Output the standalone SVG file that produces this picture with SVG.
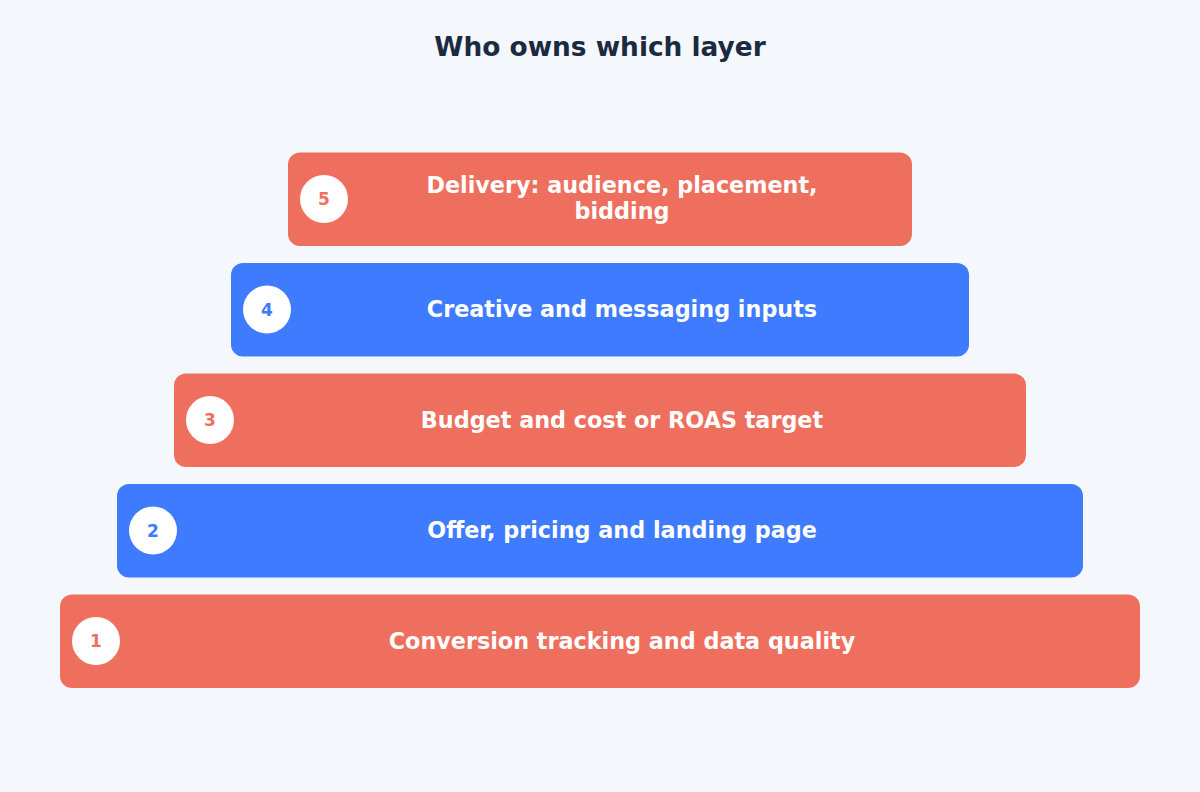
<svg xmlns="http://www.w3.org/2000/svg" width="1200" height="792" viewBox="0 0 1200 792">
<style>
.bg{fill:#F4F8FC}
.title{font-family:"DejaVu Sans",sans-serif;font-weight:bold;font-size:26.4px;fill:#1B2A3F;text-anchor:middle}
.red{fill:#EF6F5E}
.blue{fill:#3E7BFF}
.lbl{font-family:"DejaVu Sans",sans-serif;font-weight:bold;font-size:22.3px;fill:#FFFFFF;text-anchor:middle}
.badge{fill:#FFFFFF}
.num{font-family:"DejaVu Sans",sans-serif;font-weight:bold;font-size:17px;text-anchor:middle;dominant-baseline:central}
.nr{fill:#EF6F5E}
.nb{fill:#3E7BFF}
</style>
<rect class="bg" x="0" y="0" width="1200" height="792"/>
<text class="title" x="600" y="56">Who owns which layer</text>
<g id="connectors"></g>
<g id="layer5">
<rect class="red" x="288" y="152.5" width="624" height="93.5" rx="12"/>
<circle class="badge" cx="324" cy="199" r="24"/>
<text class="num nr" x="324" y="199">5</text>
<text class="lbl" x="622" y="192.5"><tspan x="622">Delivery: audience, placement,</tspan><tspan x="622" dy="26">bidding</tspan></text>
</g>
<g id="layer4">
<rect class="blue" x="231" y="263" width="738" height="93.5" rx="12"/>
<circle class="badge" cx="267" cy="309.5" r="24"/>
<text class="num nb" x="267" y="309.5">4</text>
<text class="lbl" x="622" y="317">Creative and messaging inputs</text>
</g>
<g id="layer3">
<rect class="red" x="174" y="373.5" width="852" height="93.5" rx="12"/>
<circle class="badge" cx="210" cy="420" r="24"/>
<text class="num nr" x="210" y="420">3</text>
<text class="lbl" x="622" y="427.5">Budget and cost or ROAS target</text>
</g>
<g id="layer2">
<rect class="blue" x="117" y="484" width="966" height="93.5" rx="12"/>
<circle class="badge" cx="153" cy="530.5" r="24"/>
<text class="num nb" x="153" y="530.5">2</text>
<text class="lbl" x="622" y="538">Offer, pricing and landing page</text>
</g>
<g id="layer1">
<rect class="red" x="60" y="594.5" width="1080" height="93.5" rx="12"/>
<circle class="badge" cx="96" cy="641" r="24"/>
<text class="num nr" x="96" y="641">1</text>
<text class="lbl" x="622" y="648.5">Conversion tracking and data quality</text>
</g>
</svg>
